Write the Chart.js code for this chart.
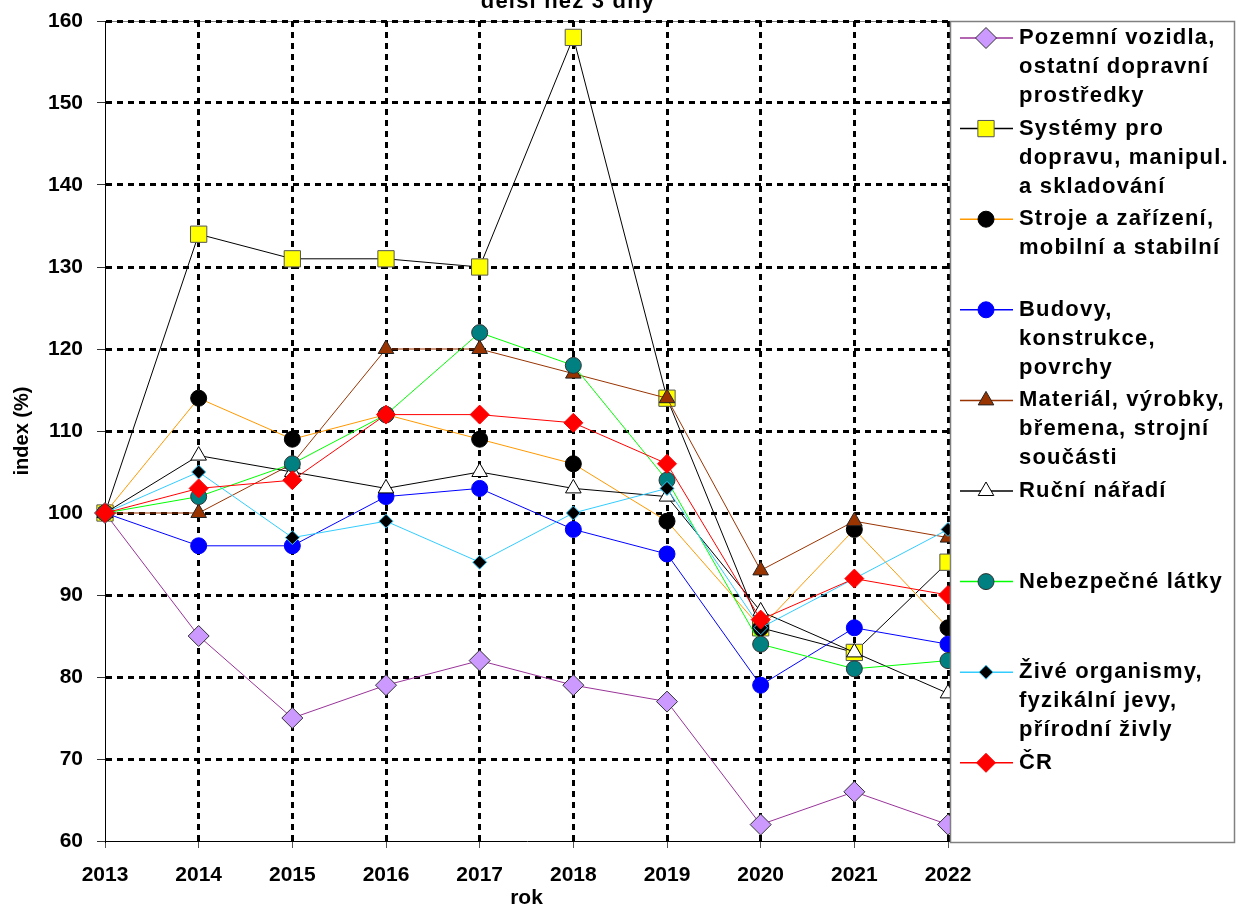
<!DOCTYPE html>
<html>
<head>
<meta charset="utf-8">
<script src="https://cdn.jsdelivr.net/npm/chart.js@4.4.0/dist/chart.umd.min.js"></script>
<style>
  body { margin: 0; background: #fff; }
  canvas { display: block; }
</style>
</head>
<body>
<canvas id="indexChart" width="1236" height="907"></canvas>
<script>
// roky a indexy (2013 = 100)
const years = ['2013', '2014', '2015', '2016', '2017', '2018', '2019', '2020', '2021', '2022'];

const pozemni    = [100, 85, 75, 79, 82, 79, 77, 62, 66, 62];
const systemy    = [100, 134, 131, 131, 130, 158, 114, 86, 83, 94];
const stroje     = [100, 114, 109, 112, 109, 106, 99, 86, 98, 86];
const budovy     = [100, 96, 96, 102, 103, 98, 95, 79, 86, 84];
const material   = [100, 100, 106, 120, 120, 117, 114, 93, 99, 97];
const rucni      = [100, 107, 105, 103, 105, 103, 102, 88, 83, 78];
const nebezpecne = [100, 102, 106, 112, 122, 118, 104, 84, 81, 82];
const zive       = [100, 105, 97, 99, 94, 100, 103, 86, 92, 98];
const cr         = [100, 103, 104, 112, 112, 111, 106, 87, 92, 90];

const yTicks = [60, 70, 80, 90, 100, 110, 120, 130, 140, 150, 160];

const legendLabels = [
  ['Pozemní vozidla,', 'ostatní dopravní', 'prostředky'],
  ['Systémy pro', 'dopravu, manipul.', 'a skladování'],
  ['Stroje a zařízení,', 'mobilní a stabilní'],
  ['Budovy,', 'konstrukce,', 'povrchy'],
  ['Materiál, výrobky,', 'břemena, strojní', 'součásti'],
  ['Ruční nářadí'],
  ['Nebezpečné látky'],
  ['Živé organismy,', 'fyzikální jevy,', 'přírodní živly'],
  ['ČR']
];

const FONT = '"Liberation Sans", Arial, sans-serif';

function series(i, data, line, fill, border, style, radius) {
  return {
    label: legendLabels[i].join(' '),
    data,
    borderColor: line,
    borderWidth: 1,
    backgroundColor: fill,
    pointBackgroundColor: fill,
    pointBorderColor: border,
    pointBorderWidth: 1,
    pointStyle: style,
    pointRadius: radius,
    pointHoverRadius: radius,
    tension: 0,
    clip: false,
    order: 8 - i // pozdější řady navrchu
  };
}

const datasets = [
  series(0, pozemni, '#993399', '#CC99FF', '#333333', 'rectRot', 10.5),
  series(1, systemy, '#000000', '#FFFF00', '#555555', 'rect', 11.5),
  series(2, stroje, '#FF9900', '#000000', '#000000', 'circle', 8),
  series(3, budovy, '#0000FF', '#0000FF', '#0000FF', 'circle', 8),
  series(4, material, '#993300', '#993300', '#222222', 'triangle', 9),
  series(5, rucni, '#000000', '#FFFFFF', '#000000', 'triangle', 9),
  series(6, nebezpecne, '#00FF00', '#008080', '#333333', 'circle', 8),
  series(7, zive, '#33CCFF', '#000000', '#33CCFF', 'rectRot', 7),
  series(8, cr, '#FF0000', '#FF0000', '#FF0000', 'rectRot', 9.5)
];

const legendTop = 38;
const legendStep = 90.6;
const lineGap = 29;

const framePlugin = {
  id: 'frame',
  beforeDraw(chart) {
    const { ctx, chartArea: a } = chart;
    ctx.save();
    ctx.strokeStyle = '#808080';
    ctx.lineWidth = 1;
    ctx.beginPath();
    ctx.moveTo(a.left, a.top + 0.5);
    ctx.lineTo(a.right, a.top + 0.5);
    ctx.stroke();
    ctx.restore();
  },
  afterDraw(chart) {
    const { ctx, chartArea: a } = chart;
    ctx.save();

    // useknutý titulek nahoře
    ctx.font = 'bold 22px ' + FONT;
    ctx.letterSpacing = '1.2px';
    ctx.fillStyle = '#000';
    ctx.textAlign = 'center';
    ctx.textBaseline = 'alphabetic';
    ctx.fillText('delší než 3 dny', 568, 8);

    // rámeček legendy
    const lx = a.right + 2, ly = a.top, lw = 1234 - lx, lh = a.bottom - a.top + 1;
    ctx.fillStyle = '#fff';
    ctx.fillRect(lx, ly, lw, lh);
    ctx.strokeStyle = '#808080';
    ctx.lineWidth = 1.5;
    ctx.strokeRect(lx + 0.5, ly + 0.5, lw, lh);

    // položky legendy
    ctx.textAlign = 'left';
    ctx.textBaseline = 'middle';
    chart.data.datasets.forEach((ds, i) => {
      const y = legendTop + i * legendStep;
      ctx.strokeStyle = ds.borderColor;
      ctx.lineWidth = 1.5;
      ctx.beginPath();
      ctx.moveTo(960, y);
      ctx.lineTo(1013, y);
      ctx.stroke();

      ctx.fillStyle = ds.pointBackgroundColor;
      ctx.strokeStyle = ds.pointBorderColor;
      ctx.lineWidth = 1;
      Chart.helpers.drawPoint(ctx, {
        pointStyle: ds.pointStyle,
        radius: ds.pointRadius,
        rotation: 0,
        borderWidth: 1
      }, 986, y);

      ctx.fillStyle = '#000';
      legendLabels[i].forEach((txt, k) => {
        ctx.fillText(txt, 1019, y + k * lineGap);
      });
    });
    ctx.restore();
  }
};

new Chart(document.getElementById('indexChart'), {
  type: 'line',
  data: { labels: years, datasets },
  options: {
    responsive: false,
    animation: false,
    layout: { padding: { top: 21, right: 288, left: 0, bottom: 0 } },
    plugins: {
      legend: { display: false },
      tooltip: { enabled: false },
      title: { display: false }
    },
    scales: {
      x: {
        type: 'category',
        offset: false,
        afterFit(scale) { scale.height = 66; },
        grid: {
          color: (c) => (c.index === 0 ? 'rgba(0,0,0,0)' : '#000'),
          lineWidth: 3,
          tickLength: 7,
          tickWidth: 1,
          tickColor: '#555',
          tickBorderDash: []
        },
        border: { display: true, color: '#000', width: 1, dash: [6, 5] },
        ticks: {
          color: '#000',
          font: { family: FONT, size: 21, weight: 'bold' },
          padding: 15,
          autoSkip: false,
          maxRotation: 0
        },
        title: {
          display: true,
          text: 'rok',
          color: '#000',
          font: { family: FONT, size: 21, weight: 'bold', lineHeight: 1 },
          padding: { top: 0, bottom: -2 }
        }
      },
      y: {
        min: 60,
        max: 160,
        afterFit(scale) {
          scale.width = 105;
          scale.paddingTop = 0;
          scale.paddingBottom = 0;
        },
        afterBuildTicks(scale) { scale.ticks = yTicks.map(v => ({ value: v })); },
        grid: {
          color: (c) => (c.index === 0 ? 'rgba(0,0,0,0)' : '#000'),
          lineWidth: 3,
          tickLength: 8,
          tickWidth: 1,
          tickColor: '#333',
          tickBorderDash: []
        },
        border: { display: true, color: '#000', width: 1, dash: [6, 5] },
        ticks: {
          color: '#000',
          font: { family: FONT, size: 21, weight: 'bold' },
          padding: 14
        },
        title: {
          display: true,
          text: 'index (%)',
          color: '#000',
          font: { family: FONT, size: 20, weight: 'bold', lineHeight: 1 },
          padding: { top: 12, bottom: 0 }
        }
      }
    }
  },
  plugins: [framePlugin]
});
</script>
</body>
</html>
